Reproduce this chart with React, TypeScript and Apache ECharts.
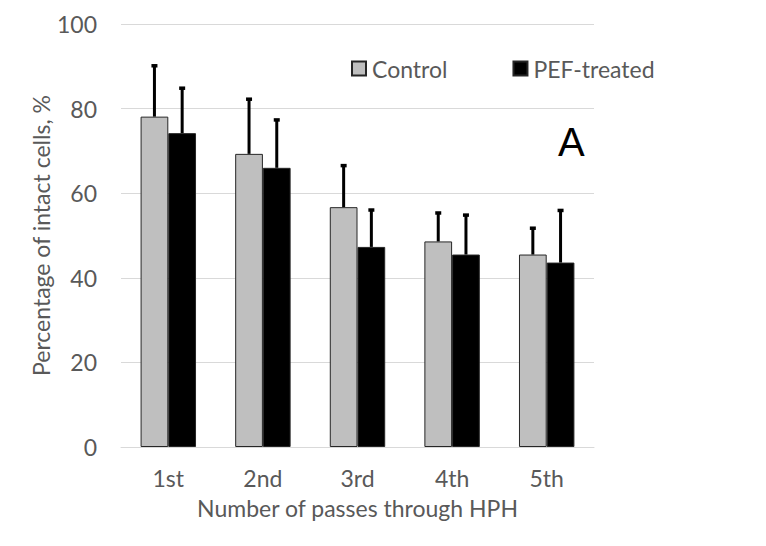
import React, { useEffect, useRef } from "react";
import * as echarts from "echarts";

const categories = ["1st", "2nd", "3rd", "4th", "5th"];
const controlValues = [78.1, 69.3, 56.7, 48.6, 45.5];
const controlErrors = [12.2, 13.1, 10.0, 6.9, 6.4];
const pefValues = [74.2, 66.0, 47.3, 45.5, 43.6];
const pefErrors = [10.8, 11.5, 8.9, 9.5, 12.5];
const yTicks = [0, 20, 40, 60, 80, 100];

const FONT = "Lato";
const FS = 23;
const BAR_W = 0.293;

function errorSeries(name: string, values: number[], errors: number[], side: number) {
  return {
    type: "custom",
    name: name + " error",
    z: 5,
    silent: true,
    data: values.map((v, i) => [i, v, v + errors[i]]),
    renderItem: (params: any, api: any) => {
      const idx = api.value(0);
      const lo = api.coord([idx, api.value(1)]);
      const hi = api.coord([idx, api.value(2)]);
      const band = api.size([1, 0])[0];
      const x = lo[0] + side * band * BAR_W / 2;
      return {
        type: "group",
        children: [
          {
            type: "line",
            shape: { x1: x, y1: lo[1], x2: x, y2: hi[1] },
            style: { stroke: "#000", lineWidth: 3 },
          },
          {
            type: "rect",
            shape: { x: x - 3, y: hi[1] - 1, width: 6, height: 3.5 },
            style: { fill: "#000" },
          },
        ],
      };
    },
  };
}

export default function App() {
  const ref = useRef<HTMLDivElement>(null);
  useEffect(() => {
    if (!ref.current) return;
    const chart = echarts.init(ref.current, undefined, { renderer: "svg" });
    chart.setOption({
      animation: false,
      backgroundColor: "#fff",
      textStyle: { fontFamily: FONT },
      grid: { left: 121, right: 172, top: 24, bottom: 99 },
      legend: {
        data: ["Control", "PEF-treated"],
        left: 346,
        top: 52,
        itemWidth: 14,
        itemHeight: 14,
        itemGap: 65,
        icon: "rect",
        textStyle: { fontFamily: FONT, fontSize: FS, color: "#595959", padding: [0, 0, 0, 1] },
      },
      xAxis: {
        type: "category",
        data: categories,
        name: "Number of passes through HPH",
        nameLocation: "middle",
        nameGap: 49,
        nameTextStyle: { fontFamily: FONT, fontSize: FS, color: "#595959" },
        axisLine: { show: true, lineStyle: { color: "#d9d9d9", width: 1 } },
        axisTick: { show: false },
        axisLabel: { fontFamily: FONT, fontSize: FS, color: "#595959", margin: 19 },
      },
      yAxis: {
        type: "value",
        min: 0,
        max: 100,
        interval: 20,
        name: "Percentage of intact cells, %",
        nameLocation: "middle",
        nameGap: 69,
        nameMoveOverlap: false,
        nameTextStyle: { fontFamily: FONT, fontSize: FS, color: "#595959" },
        axisLine: { show: false },
        axisTick: { show: false },
        axisLabel: {
          fontFamily: FONT,
          fontSize: FS,
          color: "#595959",
          margin: 24,
          formatter: (v: number) => (yTicks.includes(v) ? String(v) : ""),
        },
        splitLine: { lineStyle: { color: "#d9d9d9", width: 1 } },
      },
      series: [
        {
          type: "bar",
          name: "Control",
          data: controlValues,
          barWidth: "29.3%",
          barGap: "0%",
          itemStyle: { color: "#bfbfbf", borderColor: "#262626", borderWidth: 1 },
        },
        {
          type: "bar",
          name: "PEF-treated",
          data: pefValues,
          barWidth: "29.3%",
          barGap: "0%",
          itemStyle: { color: "#000000", borderColor: "#262626", borderWidth: 1 },
        },
        errorSeries("Control", controlValues, controlErrors, -1),
        errorSeries("PEF-treated", pefValues, pefErrors, 1),
      ],
      graphic: [
        {
          type: "text",
          left: 558,
          top: 122,
          style: {
            text: "A",
            fontFamily: "Liberation Sans",
            fontSize: 40,
            fill: "#000",
          },
        },
      ],
    });
    return () => chart.dispose();
  }, []);
  return <div ref={ref} style={{ width: 766, height: 546, margin: -8 }} />;
}
